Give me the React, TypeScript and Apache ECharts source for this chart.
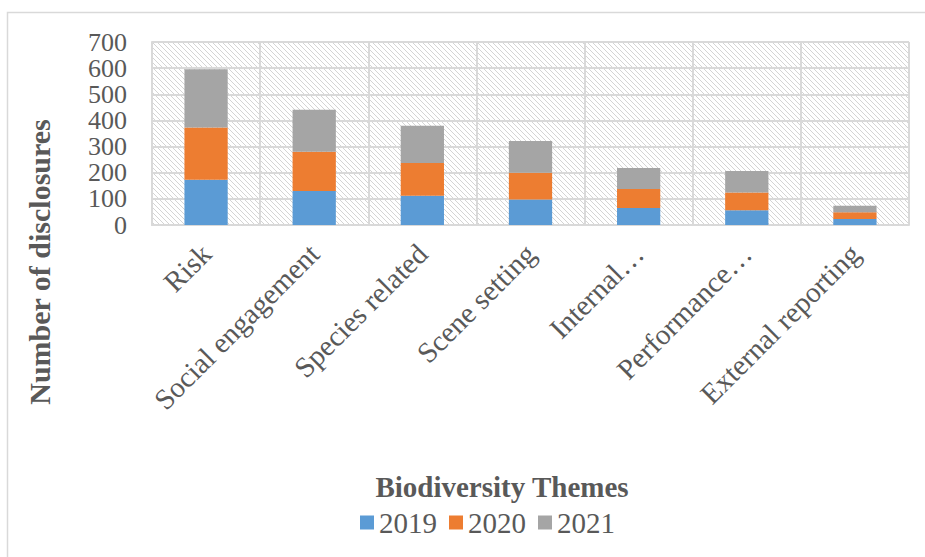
import React, { useEffect, useRef } from "react";
import * as echarts from "echarts";

// Biodiversity disclosure themes, stacked by reporting year
const categories = [
  "Risk",
  "Social engagement",
  "Species related",
  "Scene setting",
  "Internal…",
  "Performance…",
  "External reporting",
];
const years = ["2019", "2020", "2021"];
const values2019 = [173, 130, 112, 98, 65, 56, 23];
const values2020 = [200, 150, 125, 102, 73, 68, 26];
const values2021 = [223, 161, 143, 121, 80, 83, 25];
const yMin = 0;
const yMax = 700;
const yStep = 100;

const seriesColors = ["#5b9bd5", "#ed7d31", "#a5a5a5"];
const textColor = "#595959";
const gridColor = "#d9d9d9";
const serif = "'Liberation Serif', 'Times New Roman', serif";

// Small tile with a downward diagonal, repeated over the plot area
function makeHatchTile(): HTMLCanvasElement {
  const size = 5;
  const c = document.createElement("canvas");
  c.width = size;
  c.height = size;
  const ctx = c.getContext("2d")!;
  ctx.fillStyle = "#ffffff";
  ctx.fillRect(0, 0, size, size);
  ctx.fillStyle = "#d4d4d4";
  for (let i = 0; i < size; i++) ctx.fillRect(i, i, 1, 1);
  return c;
}

export default function App() {
  const ref = useRef<HTMLDivElement>(null);

  useEffect(() => {
    if (!ref.current) return;
    const chart = echarts.init(ref.current, undefined, { renderer: "svg" });
    const tile = makeHatchTile();
    const seriesData = [values2019, values2020, values2021];

    chart.setOption({
      animation: false,
      backgroundColor: "#ffffff",
      textStyle: { fontFamily: serif, color: textColor },
      graphic: [
        {
          type: "rect",
          silent: true,
          z: -10,
          shape: { x: 7.5, y: 12.5, width: 960, height: 600 },
          style: { fill: "none", stroke: gridColor, lineWidth: 1.5 },
        },
        {
          type: "text",
          x: 39,
          y: 262,
          rotation: Math.PI / 2,
          silent: true,
          style: {
            text: "Number of disclosures",
            fontFamily: serif,
            fontSize: 30,
            fontWeight: "bold",
            fill: textColor,
            align: "center",
            verticalAlign: "middle",
          },
        },
        {
          type: "text",
          x: 502,
          y: 487,
          silent: true,
          style: {
            text: "Biodiversity Themes",
            fontFamily: serif,
            fontSize: 29,
            fontWeight: "bold",
            fill: textColor,
            align: "center",
            verticalAlign: "middle",
          },
        },
      ],
      grid: {
        left: 152,
        top: 42,
        right: 16,
        bottom: 332,
        show: true,
        borderWidth: 0,
        backgroundColor: {
          image: tile,
          repeat: "repeat",
          imageWidth: 5,
          imageHeight: 5,
        },
      },
      legend: {
        left: 355,
        top: 503,
        itemWidth: 14,
        itemHeight: 14,
        itemGap: 12,
        icon: "rect",
        data: years,
        textStyle: { fontFamily: serif, fontSize: 29, color: textColor },
      },
      xAxis: {
        type: "category",
        data: categories,
        axisLine: { show: true, lineStyle: { color: gridColor, width: 2 } },
        axisTick: { show: false },
        splitLine: { show: true, lineStyle: { color: gridColor, width: 2 } },
        axisLabel: {
          rotate: 45,
          margin: 24,
          interval: 0,
          fontFamily: serif,
          fontSize: 29,
          color: textColor,
        },
      },
      yAxis: {
        type: "value",
        min: yMin,
        max: yMax,
        interval: yStep,
        axisLine: { show: true, lineStyle: { color: gridColor, width: 2 } },
        axisTick: { show: false },
        splitLine: { show: true, lineStyle: { color: gridColor, width: 2 } },
        axisLabel: {
          margin: 25,
          interval: 0,
          showMinLabel: true,
          showMaxLabel: true,
          hideOverlap: false,
          fontFamily: serif,
          fontSize: 26,
          lineHeight: 22,
          color: textColor,
        },
      },
      series: years.map((y, i) => ({
        name: y,
        type: "bar",
        stack: "total",
        barWidth: "40%",
        data: seriesData[i],
        itemStyle: { color: seriesColors[i] },
      })),
    });

    return () => chart.dispose();
  }, []);

  return (
    <div
      ref={ref}
      style={{ position: "fixed", left: 0, top: 0, width: 925, height: 557 }}
    />
  );
}
